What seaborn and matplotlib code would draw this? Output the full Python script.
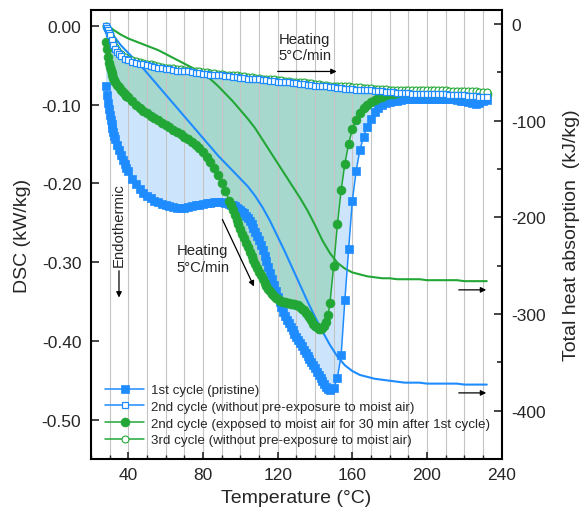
import seaborn as sns
import matplotlib.pyplot as plt
from matplotlib.ticker import MultipleLocator, FuncFormatter

# 1st cycle and moist 2nd cycle were logged more densely at the start and on the steep flank
temp_a = ([28 + 0.5 * i for i in range(11)] + list(range(34, 41)) + list(range(42, 95, 2))
          + list(range(95, 149)) + list(range(150, 233, 2)))
# the two runs without moist air
temp_b = [28, 28.5, 29, 29.5, 30, 31, 32, 33, 34, 35] + list(range(36, 233, 2))

# DSC (kW/kg)
dsc_1st = [
    -0.076, -0.088, -0.098, -0.106, -0.113, -0.119, -0.125, -0.130, -0.135, -0.140,  # 28-32.5
    -0.144, -0.151, -0.158, -0.164, -0.170, -0.175, -0.180, -0.185,                  # 33-40
    -0.194, -0.201, -0.207, -0.212, -0.216, -0.219, -0.222, -0.224, -0.226, -0.228,  # 42-60
    -0.229, -0.230, -0.231, -0.231, -0.231, -0.230, -0.229, -0.228, -0.227, -0.226,  # 62-80
    -0.225, -0.225, -0.224, -0.224, -0.224, -0.225, -0.226,                          # 82-94
    -0.227, -0.228, -0.229, -0.231, -0.232, -0.234, -0.236, -0.238, -0.241, -0.244,  # 95-104
    -0.248, -0.252, -0.257, -0.262, -0.267, -0.272, -0.278, -0.285, -0.292, -0.299,  # 105-114
    -0.306, -0.314, -0.321, -0.329, -0.337, -0.344, -0.351, -0.357, -0.363, -0.368,  # 115-124
    -0.373, -0.377, -0.382, -0.386, -0.391, -0.395, -0.399, -0.403, -0.407, -0.411,  # 125-134
    -0.415, -0.419, -0.423, -0.427, -0.431, -0.435, -0.439, -0.443, -0.447, -0.451,  # 135-144
    -0.455, -0.458, -0.461, -0.462,                                                  # 145-148
    -0.460, -0.447, -0.418, -0.348, -0.284, -0.222, -0.185, -0.158, -0.141, -0.128,  # 150-168
    -0.118, -0.110, -0.104, -0.100, -0.098, -0.097, -0.096, -0.095, -0.094, -0.093,  # 170-188
    -0.093, -0.093, -0.093, -0.093, -0.093, -0.093, -0.093, -0.093, -0.093, -0.093,  # 190-208
    -0.093, -0.093, -0.093, -0.094, -0.095, -0.096, -0.097, -0.098, -0.099, -0.098,  # 210-228
    -0.096, -0.094,                                                                  # 230-232
]

dsc_2nd_moist = [
    -0.020, -0.030, -0.040, -0.047, -0.052, -0.056, -0.060, -0.063, -0.066, -0.069,
    -0.071, -0.075, -0.078, -0.081, -0.084, -0.086, -0.089, -0.091,
    -0.096, -0.100, -0.104, -0.108, -0.111, -0.114, -0.117, -0.120, -0.123, -0.126,
    -0.129, -0.132, -0.135, -0.138, -0.141, -0.144, -0.147, -0.151, -0.155, -0.160,
    -0.166, -0.173, -0.181, -0.190, -0.199, -0.210, -0.222,
    -0.228, -0.234, -0.240, -0.246, -0.252, -0.258, -0.264, -0.270, -0.276, -0.281,
    -0.287, -0.292, -0.297, -0.302, -0.307, -0.312, -0.317, -0.321, -0.326, -0.330,
    -0.334, -0.337, -0.340, -0.343, -0.345, -0.347, -0.349, -0.350, -0.351, -0.351,
    -0.352, -0.352, -0.353, -0.353, -0.353, -0.354, -0.355, -0.357, -0.359, -0.361,
    -0.364, -0.367, -0.370, -0.374, -0.378, -0.381, -0.383, -0.385, -0.385, -0.384,
    -0.381, -0.376, -0.367, -0.352,
    -0.305, -0.252, -0.209, -0.175, -0.150, -0.131, -0.119, -0.111, -0.105, -0.101,
    -0.097, -0.094, -0.092, -0.090, -0.088, -0.087, -0.086, -0.085, -0.084, -0.084,
    -0.084, -0.084, -0.084, -0.085, -0.085, -0.085, -0.085, -0.085, -0.085, -0.085,
    -0.085, -0.085, -0.086, -0.086, -0.086, -0.086, -0.086, -0.086, -0.087, -0.087,
    -0.087, -0.087,
]

dsc_2nd = [
    0.000, -0.003, -0.006, -0.009, -0.012, -0.018, -0.024, -0.029, -0.033, -0.036,   # 28-35
    -0.038, -0.042, -0.044, -0.046, -0.047, -0.048, -0.049, -0.050, -0.051, -0.052,  # 36-54
    -0.053, -0.054, -0.055, -0.055, -0.056, -0.057, -0.057, -0.058, -0.058, -0.059,  # 56-74
    -0.060, -0.060, -0.061, -0.061, -0.062, -0.062, -0.063, -0.063, -0.064, -0.064,  # 76-94
    -0.065, -0.065, -0.066, -0.066, -0.067, -0.067, -0.068, -0.068, -0.069, -0.069,  # 96-114
    -0.070, -0.070, -0.071, -0.071, -0.072, -0.072, -0.073, -0.073, -0.074, -0.074,  # 116-134
    -0.075, -0.075, -0.076, -0.076, -0.077, -0.077, -0.078, -0.078, -0.079, -0.079,  # 136-154
    -0.080, -0.080, -0.080, -0.081, -0.081, -0.082, -0.082, -0.082, -0.083, -0.083,  # 156-174
    -0.083, -0.084, -0.084, -0.084, -0.085, -0.085, -0.085, -0.085, -0.086, -0.086,  # 176-194
    -0.086, -0.086, -0.086, -0.087, -0.087, -0.087, -0.087, -0.087, -0.088, -0.088,  # 196-214
    -0.088, -0.088, -0.088, -0.089, -0.089, -0.089, -0.090, -0.090, -0.090,          # 216-232
]

dsc_3rd = [
    0.000, -0.003, -0.005, -0.008, -0.011, -0.017, -0.022, -0.027, -0.031, -0.034,
    -0.036, -0.040, -0.042, -0.044, -0.045, -0.046, -0.047, -0.048, -0.049, -0.050,
    -0.051, -0.052, -0.053, -0.053, -0.054, -0.055, -0.055, -0.056, -0.056, -0.057,
    -0.058, -0.058, -0.059, -0.059, -0.060, -0.060, -0.061, -0.061, -0.062, -0.062,
    -0.063, -0.063, -0.064, -0.064, -0.065, -0.065, -0.066, -0.066, -0.067, -0.067,
    -0.068, -0.068, -0.069, -0.069, -0.070, -0.070, -0.071, -0.071, -0.072, -0.072,
    -0.073, -0.073, -0.074, -0.074, -0.075, -0.075, -0.076, -0.076, -0.077, -0.077,
    -0.077, -0.077, -0.078, -0.078, -0.078, -0.079, -0.079, -0.079, -0.080, -0.080,
    -0.080, -0.080, -0.081, -0.081, -0.081, -0.081, -0.081, -0.081, -0.082, -0.082,
    -0.082, -0.082, -0.082, -0.082, -0.082, -0.082, -0.082, -0.082, -0.083, -0.083,
    -0.083, -0.083, -0.083, -0.083, -0.083, -0.083, -0.084, -0.084, -0.084,
]

# total heat absorption, every 4 degC (kJ/kg)
temp_heat = list(range(28, 233, 4))

heat_1st = [
    0, -12, -22, -30, -38, -46, -55, -64, -73, -82,              # 28-64
    -91, -100, -109, -118, -127, -136, -144, -152, -160, -168,   # 68-104
    -178, -190, -204, -220, -236, -253, -270, -287, -303, -318,  # 108-144
    -332, -344, -353, -359, -363, -365, -367, -368, -369, -370,  # 148-184
    -371, -371, -371, -372, -372, -372, -372, -372, -373, -373,  # 188-224
    -373, -373,                                                  # 228-232
]

heat_2nd_moist = [
    0, -6, -11, -15, -18, -21, -24, -27, -31, -35,
    -39, -43, -47, -51, -57, -64, -72, -80, -89, -98,
    -108, -120, -132, -144, -156, -168, -180, -193, -208, -224,
    -237, -247, -253, -257, -259, -261, -262, -263, -263, -264,
    -264, -264, -264, -265, -265, -265, -265, -265, -266, -266,
    -266, -266,
]

labels = [
    '1st cycle (pristine)',
    '2nd cycle (without pre-exposure to moist air)',
    '2nd cycle (exposed to moist air for 30 min after 1st cycle)',
    '3rd cycle (without pre-exposure to moist air)',
]

sns.set_theme(style='ticks')
plt.rcParams['font.family'] = ['Liberation Sans', 'DejaVu Sans']
plt.rcParams['axes.unicode_minus'] = False

blue = '#1e8cff'
green = '#22a736'
fill_blue = '#cde5fc'
fill_teal = '#a7d8ce'

fig = plt.figure(figsize=(5.81, 5.10), dpi=100)
pos = [0.1566, 0.098, 0.7069, 0.8804]

# three stacked layers: fills at the back, heat lines in the middle, DSC markers on top
ax_bg = fig.add_axes(pos)
ax2 = fig.add_axes(pos, sharex=ax_bg)
ax = fig.add_axes(pos, sharex=ax_bg, sharey=ax_bg)
ax_bg.set_zorder(0)
ax2.set_zorder(1)
ax.set_zorder(2)
ax2.patch.set_visible(False)
ax.patch.set_visible(False)

# shaded areas between the cycles
ax_bg.fill(temp_a + temp_b[::-1], dsc_1st + dsc_2nd[::-1], color=fill_blue, lw=0)
ax_bg.fill(temp_a + temp_b[::-1], dsc_2nd_moist + dsc_3rd[::-1], color=fill_teal, lw=0)
ax_bg.axis('off')

# x axis (shared)
ax.set_xlim(20, 240)
ax.xaxis.set_major_locator(MultipleLocator(40))
ax.xaxis.set_minor_locator(MultipleLocator(10))
ax.set_ylim(-0.55, 0.02)
ax.yaxis.set_major_locator(MultipleLocator(0.1))
ax.yaxis.set_major_formatter(FuncFormatter(lambda v, p: '0.00' if abs(v) < 1e-9 else f'{v:.2f}'))

# heat absorption lines on the right axis
sns.lineplot(x=temp_heat, y=heat_1st, ax=ax2, color=blue, lw=1.5)
sns.lineplot(x=temp_heat, y=heat_2nd_moist, ax=ax2, color=green, lw=1.5)
ax2.set_ylim(-450, 14.5)
ax2.yaxis.set_major_locator(MultipleLocator(100))
ax2.yaxis.set_minor_locator(MultipleLocator(50))
ax2.yaxis.set_major_formatter(FuncFormatter(lambda v, p: f'{int(round(v))}'))
ax2.yaxis.tick_right()
ax2.yaxis.set_label_position('right')
ax2.grid(axis='x', which='both', color='#c4c4c4', lw=0.8)
ax2.tick_params(axis='x', which='both', bottom=False, top=False, labelbottom=False)
ax2.tick_params(axis='y', which='major', direction='in', length=5.5, width=1.2,
                labelsize=12.5, pad=7, right=True, left=False)
ax2.tick_params(axis='y', which='minor', direction='in', length=3.5, width=1.2, right=True, left=False)
for s in ax2.spines.values():
    s.set_visible(False)
ax2.set_ylabel('Total heat absorption  (kJ/kg)', fontsize=14, labelpad=12)

# DSC traces
sns.lineplot(x=temp_a, y=dsc_1st, ax=ax, color=blue, lw=1.1, marker='s', ms=5.8,
             mfc=blue, mec=blue, mew=0.5, label=labels[0])
sns.lineplot(x=temp_a, y=dsc_2nd_moist, ax=ax, color=green, lw=1.1, marker='o', ms=6.4,
             mfc=green, mec=green, mew=0.5, label=labels[2])
sns.lineplot(x=temp_b, y=dsc_3rd, ax=ax, color=green, lw=1.1, marker='o', ms=5.0,
             mfc='white', mec=green, mew=0.8, label=labels[3])
sns.lineplot(x=temp_b, y=dsc_2nd, ax=ax, color=blue, lw=1.1, marker='s', ms=4.4,
             mfc='white', mec=blue, mew=0.9, label=labels[1])

ax.tick_params(axis='x', which='major', direction='in', length=5, width=1.2,
               labelsize=12.5, pad=6, bottom=True, top=False)
ax.tick_params(axis='x', which='minor', direction='in', length=3, width=1.0, bottom=True, top=False)
ax.tick_params(axis='y', which='major', direction='in', length=5.5, width=1.2,
               labelsize=12.5, pad=7, left=True, right=False)
for s in ax.spines.values():
    s.set_visible(True)
    s.set_color('black')
    s.set_linewidth(1.5)
ax.set_xlabel('Temperature (°C)', fontsize=14, labelpad=5)
ax.set_ylabel('DSC (kW/kg)', fontsize=14, labelpad=8)

# legend in the lower left corner
h, l = ax.get_legend_handles_labels()
order = [l.index(lab) for lab in labels]
ax.legend([h[i] for i in order], [l[i] for i in order], loc='lower left',
          bbox_to_anchor=(0.035, 0.028), frameon=False, fontsize=9.6,
          handlelength=2.9, handletextpad=0.55, labelspacing=0.33,
          borderpad=0, borderaxespad=0)

# annotations
arrow = dict(arrowstyle='-|>', color='black', lw=0.9, mutation_scale=8, shrinkA=0, shrinkB=0)
ax.text(120.5, -0.027, 'Heating\n5°C/min', fontsize=10.7, ha='left', va='center', linespacing=1.25)
ax.annotate('', xy=(151.6, -0.058), xytext=(120, -0.058), arrowprops=arrow)
ax.text(66, -0.295, 'Heating\n5°C/min', fontsize=10.7, ha='left', va='center', linespacing=1.25)
ax.annotate('', xy=(107.3, -0.331), xytext=(90.4, -0.246), arrowprops=arrow)
ax.text(35, -0.252, 'Endothermic', rotation=90, fontsize=10.7, ha='center', va='center')
ax.annotate('', xy=(35, -0.345), xytext=(35, -0.311), arrowprops=arrow)
ax2.annotate('', xy=(231.7, -275), xytext=(217, -275), arrowprops=arrow)
ax2.annotate('', xy=(231.7, -381.6), xytext=(217, -381.6), arrowprops=arrow)

fig.savefig('out.png', dpi=100)
